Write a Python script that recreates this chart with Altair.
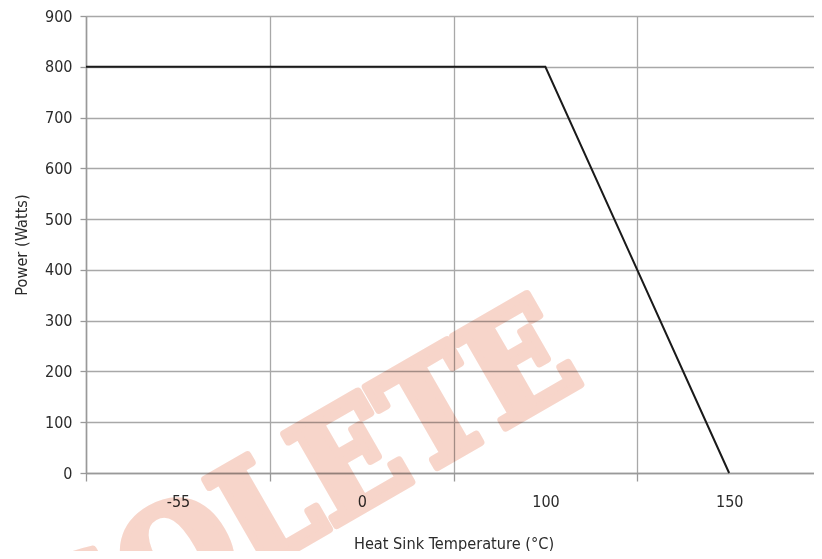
import altair as alt
import pandas as pd

# ---- data ----
temp_labels = ["-55", "0", "100", "150"]          # category labels on x axis
band_edges = [-0.5, 0.5, 1.5, 2.5, 3.5]           # gridline positions (category boundaries)
line_x = [-0.5, 2.0, 3.0]                          # category-index positions of the curve
line_power = [800, 800, 0]                         # Power (Watts)
power_ticks = [0, 100, 200, 300, 400, 500, 600, 700, 800, 900]
watermark_text = ["OBSOLETE"]
watermark_x = [2.221]
watermark_y = [181]

df_line = pd.DataFrame({"x": line_x, "y": line_power})
df_wm = pd.DataFrame({"x": watermark_x, "y": watermark_y, "t": watermark_text})

label_expr = " : ".join(
    f"datum.value == {e} ? '{l}'" for e, l in zip(band_edges[:-1], temp_labels)
) + " : ''"

FONT = "DejaVu Sans Condensed, Liberation Sans Narrow, sans-serif"
GRID = "#a8a8a8"
TXT = "#2b2b2b"
WM = "#f7d5ca"

X = alt.X(
    "x:Q",
    scale=alt.Scale(domain=[-0.5, 3.5], nice=False, zero=False, range=[0, 735]),
    axis=alt.Axis(
        values=band_edges,
        labelExpr=label_expr,
        labelOffset=92,
        labelFlush=False,
        labelOverlap=False,
        grid=True,
        gridColor=GRID,
        gridWidth=1.3,
        domainColor="#999999",
        domainWidth=1.5,
        tickColor="#999999",
        tickSize=8,
        tickWidth=1.3,
        labelPadding=12,
        labelFont=FONT,
        labelFontSize=16,
        labelColor=TXT,
        title="Heat Sink Temperature (°C)",
        titleFont=FONT,
        titleFontSize=16.2,
        titleFontWeight="normal",
        titleColor=TXT,
        titlePadding=26,
    ),
)
Y = alt.Y(
    "y:Q",
    scale=alt.Scale(domain=[0, 900], nice=False),
    axis=alt.Axis(
        values=power_ticks,
        grid=True,
        gridColor=GRID,
        gridWidth=1.3,
        domainColor="#999999",
        domainWidth=1.5,
        tickColor="#999999",
        tickSize=6,
        tickWidth=1.3,
        labelPadding=8,
        labelFont=FONT,
        labelFontSize=16,
        labelColor=TXT,
        title="Power (Watts)",
        titleFont=FONT,
        titleFontSize=16.2,
        titleFontWeight="normal",
        titleColor=TXT,
        titlePadding=15,
    ),
)

wm = alt.Chart(df_wm).mark_text(
    font="DejaVu Serif Condensed, DejaVu Serif, Liberation Serif, serif",
    fontWeight="bold",
    fontSize=144,
    angle=330,
    align="right",
    baseline="alphabetic",
    color=WM,
    stroke=WM,
    strokeWidth=8,
    strokeJoin="round",
    blend="multiply",
).encode(x=X, y=Y, text="t:N")

line = alt.Chart(df_line).mark_line(color="#1a1a1a", strokeWidth=2).encode(x=X, y=Y)

chart = alt.layer(wm, line).properties(
    width=728,
    height=457,
    padding={"left": 78, "top": 8, "right": 0, "bottom": 78},
    autosize=alt.AutoSizeParams(type="none"),
    background="white",
).configure_view(strokeWidth=0)

chart.save("out.html", embed_options={"renderer": "svg", "actions": False})
